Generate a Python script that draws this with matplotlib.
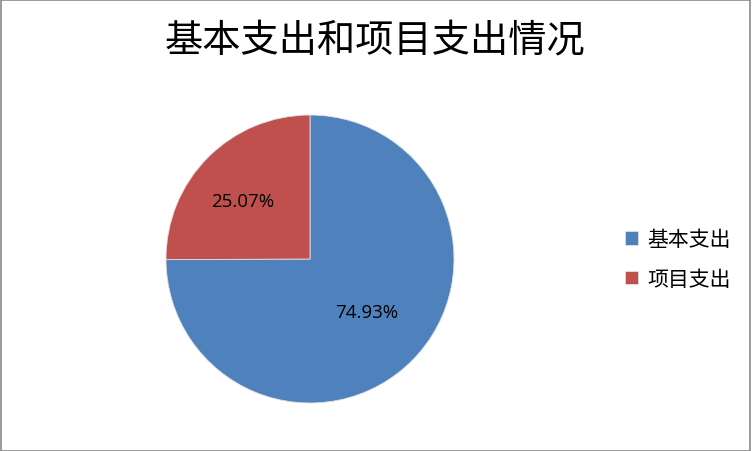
import matplotlib.pyplot as plt
from matplotlib.patches import Rectangle
import numpy as np

plt.rcParams['font.family'] = ['Noto Sans CJK SC', 'DejaVu Sans']

# data
title = '基本支出和项目支出情况'
categories = ['基本支出', '项目支出']
shares = [74.93, 25.07]
colors = ['#4F81BD', '#C0504D']

fig = plt.figure(figsize=(7.52, 4.52), dpi=100)
fig.patches.append(Rectangle((0.001, 0.001), 0.997, 0.996, transform=fig.transFigure,
                             fill=False, edgecolor='#8a8a8a', linewidth=1.2))

ax = fig.add_axes([166 / 752, 48 / 452, 288 / 752, 288 / 452])
wedges, texts = ax.pie(shares, colors=colors, startangle=90, counterclock=False,
                       radius=1, wedgeprops=dict(edgecolor='#e0e0e0', linewidth=0.6))
ax.set_xlim(-1, 1)
ax.set_ylim(-1, 1)
ax.set_aspect('equal')

# percentage labels
dists = [0.54, 0.62]
shift = [2, 4]  # degrees
for w, val, d, s in zip(wedges, shares, dists, shift):
    ang = np.deg2rad((w.theta1 + w.theta2) / 2 + s)
    ax.text(d * np.cos(ang), d * np.sin(ang), '%.2f%%' % val,
            ha='center', va='center', fontsize=13.5, family=['Open Sans', 'DejaVu Sans'])

fig.text(375 / 752, 1 - 42 / 452, title, ha='center', va='center', fontsize=27.5)

leg = fig.legend(wedges, categories, loc='center left', bbox_to_anchor=(606 / 752, 1 - 260 / 452),
                 frameon=False, fontsize=15, handlelength=0.65, handleheight=0.65,
                 labelspacing=0.85, handletextpad=0.45)

fig.savefig('out.png', dpi=100)
